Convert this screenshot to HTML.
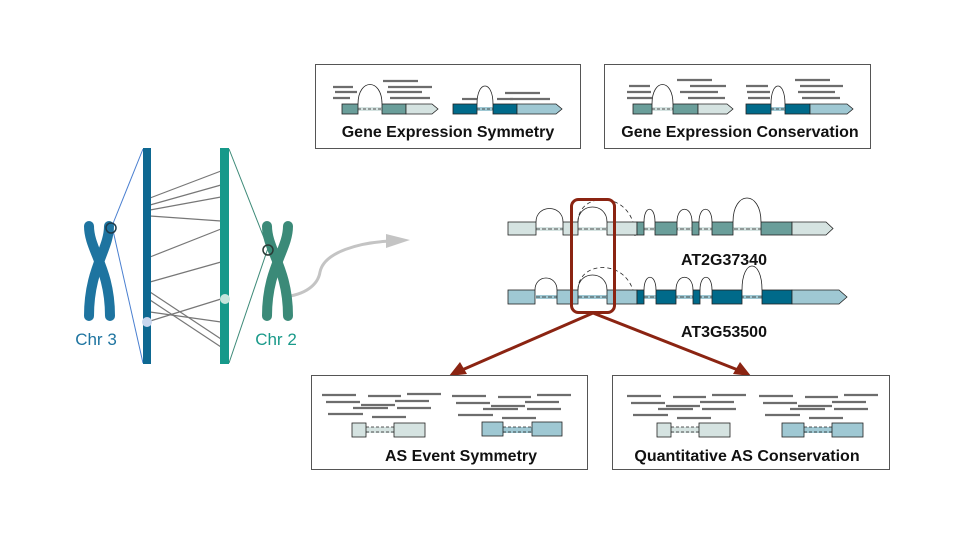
<!DOCTYPE html>
<html><head><meta charset="utf-8"><style>
html,body{margin:0;padding:0;background:#fff;}
svg{display:block;}
text{font-family:"Liberation Sans",Arial,sans-serif;}
</style></head><body>
<svg width="960" height="540" viewBox="0 0 960 540" xmlns="http://www.w3.org/2000/svg">
<defs>
<g id="reads" stroke="#6d6d6d" stroke-width="2.2">
<line x1="322" y1="395" x2="356" y2="395"/><line x1="368" y1="396" x2="401" y2="396"/><line x1="407" y1="394" x2="441" y2="394"/>
<line x1="326" y1="402" x2="360" y2="402"/><line x1="395" y1="401" x2="429" y2="401"/><line x1="361" y1="405" x2="395" y2="405"/>
<line x1="353" y1="408" x2="388" y2="408"/><line x1="397" y1="408" x2="431" y2="408"/><line x1="328" y1="414" x2="363" y2="414"/>
<line x1="372" y1="417" x2="406" y2="417"/>
</g>
</defs>

<g fill="none">
<line x1="143" y1="149" x2="112" y2="226" stroke="#4a7fd0" stroke-width="1"/>
<line x1="112" y1="226" x2="143" y2="363" stroke="#4a7fd0" stroke-width="1"/>
<line x1="229" y1="149" x2="268" y2="248" stroke="#3d8a78" stroke-width="1"/>
<line x1="268" y1="248" x2="229" y2="363" stroke="#3d8a78" stroke-width="1"/>
<g stroke="#777" stroke-width="1.2">
<line x1="150" y1="198" x2="221" y2="171"/><line x1="150" y1="205" x2="221" y2="185"/>
<line x1="150" y1="210" x2="221" y2="197"/><line x1="150" y1="216" x2="221" y2="221"/>
<line x1="150" y1="257" x2="221" y2="229"/><line x1="150" y1="282" x2="221" y2="262"/>
<line x1="150" y1="292" x2="221" y2="339"/><line x1="150" y1="300" x2="221" y2="347"/>
<line x1="150" y1="312" x2="221" y2="322"/><line x1="147" y1="322" x2="221" y2="299"/>
</g>
<path d="M283 297 C305 295 318 285 320 272 C324 252 360 242 392 241" stroke="#c4c4c4" stroke-width="3"/>
</g>
<polygon points="386,234 410,240 386,248" fill="#c4c4c4"/>
<rect x="143" y="148" width="8" height="216" fill="#0e6891"/>
<rect x="220" y="148" width="9" height="216" fill="#16998a"/>
<circle cx="147" cy="322" r="5" fill="#c8d6ee"/>
<circle cx="225" cy="299" r="5" fill="#c5e4dc"/>
<g fill="none" stroke-linecap="round" stroke-width="10" stroke="#1e74a0">
<path d="M89 226 C89 250 110 268 110 316"/>
<path d="M109 226 C109 250 89 268 89 316"/>
</g>
<circle cx="111" cy="228" r="5" fill="none" stroke="#1d3a4a" stroke-width="1.5"/>
<text x="96" y="345" font-size="17" fill="#1e74a0" text-anchor="middle">Chr 3</text>
<g fill="none" stroke-linecap="round" stroke-width="10" stroke="#3b8a78">
<path d="M267 226 C267 250 288 268 288 316"/>
<path d="M288 226 C288 250 267 268 267 316"/>
</g>
<circle cx="268" cy="250" r="5" fill="none" stroke="#2a3a36" stroke-width="1.5"/>
<text x="276" y="345" font-size="17" fill="#1a9a8a" text-anchor="middle">Chr 2</text>

<rect x="315.5" y="64.5" width="265" height="84" fill="#fff" stroke="#555"/>
<rect x="604.5" y="64.5" width="266" height="84" fill="#fff" stroke="#555"/>
<g stroke="#6d6d6d" stroke-width="2.2">
<line x1="333" y1="87" x2="353" y2="87"/><line x1="335" y1="92" x2="357" y2="92"/><line x1="333" y1="98" x2="350" y2="98"/>
<line x1="383" y1="81" x2="418" y2="81"/><line x1="388" y1="87" x2="432" y2="87"/><line x1="387" y1="92" x2="422" y2="92"/><line x1="390" y1="98" x2="430" y2="98"/>
<line x1="462" y1="99" x2="477" y2="99"/><line x1="505" y1="93" x2="540" y2="93"/><line x1="497" y1="99" x2="513" y2="99"/><line x1="510" y1="99" x2="550" y2="99"/>
<line x1="629" y1="86" x2="650" y2="86"/><line x1="627" y1="92" x2="651" y2="92"/><line x1="627" y1="98" x2="652" y2="98"/>
<line x1="677" y1="80" x2="712" y2="80"/><line x1="690" y1="86" x2="726" y2="86"/><line x1="680" y1="92" x2="718" y2="92"/><line x1="688" y1="98" x2="725" y2="98"/>
<line x1="746" y1="86" x2="768" y2="86"/><line x1="747" y1="92" x2="770" y2="92"/><line x1="748" y1="98" x2="770" y2="98"/>
<line x1="795" y1="80" x2="830" y2="80"/><line x1="800" y1="86" x2="843" y2="86"/><line x1="798" y1="92" x2="835" y2="92"/><line x1="802" y1="98" x2="840" y2="98"/>
</g>
<g stroke="#222" stroke-width="0.8">
<path d="M358 104 C358 78 382 78 382 104" fill="#fff"/>
<rect x="358" y="107" width="24" height="4" fill="#d5e3e1" stroke="none"/>
<line x1="358" y1="109" x2="382" y2="109" stroke-dasharray="3,2"/>
<rect x="342" y="104" width="16" height="10" fill="#6a9e9a"/>
<rect x="382" y="104" width="24" height="10" fill="#6a9e9a"/>
<path d="M406 104 H432 L438 109 L432 114 H406 Z" fill="#d5e3e1"/>
<path d="M477 104 C477 80 493 80 493 104" fill="#fff"/>
<rect x="477" y="107" width="16" height="4" fill="#9fc8d3" stroke="none"/>
<line x1="477" y1="109" x2="493" y2="109" stroke-dasharray="3,2"/>
<rect x="453" y="104" width="24" height="10" fill="#006a8a"/>
<rect x="493" y="104" width="24" height="10" fill="#006a8a"/>
<path d="M517 104 H556 L562 109 L556 114 H517 Z" fill="#9fc8d3"/>
<path d="M652 104 C652 78 673 78 673 104" fill="#fff"/>
<rect x="652" y="107" width="21" height="4" fill="#d5e3e1" stroke="none"/>
<line x1="652" y1="109" x2="673" y2="109" stroke-dasharray="3,2"/>
<rect x="633" y="104" width="19" height="10" fill="#6a9e9a"/>
<rect x="673" y="104" width="25" height="10" fill="#6a9e9a"/>
<path d="M698 104 H727 L733 109 L727 114 H698 Z" fill="#d5e3e1"/>
<path d="M771 104 C771 80 785 80 785 104" fill="#fff"/>
<rect x="771" y="107" width="14" height="4" fill="#9fc8d3" stroke="none"/>
<line x1="771" y1="109" x2="785" y2="109" stroke-dasharray="3,2"/>
<rect x="746" y="104" width="25" height="10" fill="#006a8a"/>
<rect x="785" y="104" width="25" height="10" fill="#006a8a"/>
<path d="M810 104 H847 L853 109 L847 114 H810 Z" fill="#9fc8d3"/>
</g>
<text x="448" y="137" font-size="16" font-weight="bold" fill="#111" text-anchor="middle">Gene Expression Symmetry</text>
<text x="740" y="137" font-size="16" font-weight="bold" fill="#111" text-anchor="middle">Gene Expression Conservation</text>

<g stroke="#222" stroke-width="0.8" fill="none">
<rect x="536" y="227" width="226" height="4" fill="#d5e3e1" stroke="none"/>
<line x1="536" y1="229" x2="762" y2="229" stroke-dasharray="4,2"/>
<path d="M536 222 C536 204 563 204 563 222"/>
<path d="M578 222 C578 202 607 202 607 222"/>
<path d="M578 222 C578 190 635 190 635 236" stroke-dasharray="4,3"/>
<path d="M644 222 C644 205 655 205 655 222"/>
<path d="M677 222 C677 205 692 205 692 222"/>
<path d="M699 222 C699 205 712 205 712 222"/>
<path d="M733 222 C733 190 761 190 761 222"/>
<rect x="508" y="222" width="28" height="13" fill="#d5e3e1"/>
<rect x="563" y="222" width="15" height="13" fill="#d5e3e1"/>
<rect x="607" y="222" width="30" height="13" fill="#d5e3e1"/>
<rect x="637" y="222" width="7" height="13" fill="#6a9e9a"/>
<rect x="655" y="222" width="22" height="13" fill="#6a9e9a"/>
<rect x="692" y="222" width="7" height="13" fill="#6a9e9a"/>
<rect x="712" y="222" width="21" height="13" fill="#6a9e9a"/>
<rect x="761" y="222" width="31" height="13" fill="#6a9e9a"/>
<path d="M792 222 H826 L833 228.5 L826 235 H792 Z" fill="#d5e3e1"/>
<rect x="536" y="295" width="226" height="4" fill="#9fc8d3" stroke="none"/>
<line x1="536" y1="297" x2="762" y2="297" stroke-dasharray="4,2"/>
<path d="M535 290 C535 274 557 274 557 290"/>
<path d="M578 290 C578 270 607 270 607 290"/>
<path d="M578 290 C578 258 635 258 635 304" stroke-dasharray="4,3"/>
<path d="M644 290 C644 273 656 273 656 290"/>
<path d="M676 290 C676 273 693 273 693 290"/>
<path d="M700 290 C700 273 712 273 712 290"/>
<path d="M742 290 C742 258 762 258 762 290"/>
<rect x="508" y="290" width="27" height="14" fill="#9fc8d3"/>
<rect x="557" y="290" width="21" height="14" fill="#9fc8d3"/>
<rect x="607" y="290" width="30" height="14" fill="#9fc8d3"/>
<rect x="637" y="290" width="7" height="14" fill="#006a8a"/>
<rect x="656" y="290" width="20" height="14" fill="#006a8a"/>
<rect x="693" y="290" width="7" height="14" fill="#006a8a"/>
<rect x="712" y="290" width="30" height="14" fill="#006a8a"/>
<rect x="762" y="290" width="30" height="14" fill="#006a8a"/>
<path d="M792 290 H839 L847 297 L839 304 H792 Z" fill="#9fc8d3"/>
</g>
<text x="724" y="265" font-size="16" font-weight="bold" fill="#111" text-anchor="middle">AT2G37340</text>
<text x="724" y="337" font-size="16" font-weight="bold" fill="#111" text-anchor="middle">AT3G53500</text>

<rect x="571.5" y="199.5" width="43" height="113" rx="7" fill="none" stroke="#8b2412" stroke-width="3"/>
<g stroke="#8b2412" stroke-width="3">
<line x1="593" y1="313" x2="462" y2="370"/>
<line x1="593" y1="313" x2="738" y2="370"/>
</g>
<polygon points="449,376 460,362 467,374" fill="#8b2412"/>
<polygon points="751,376 733,374 740,362" fill="#8b2412"/>

<rect x="311.5" y="375.5" width="276" height="94" fill="#fff" stroke="#555"/>
<rect x="612.5" y="375.5" width="277" height="94" fill="#fff" stroke="#555"/>
<use href="#reads"/>
<use href="#reads" transform="translate(130,1)"/>
<use href="#reads" transform="translate(305,1)"/>
<use href="#reads" transform="translate(437,1)"/>
<g stroke="#222" stroke-width="0.8">
<rect x="366" y="427" width="28" height="6" fill="#d5e3e1" stroke="none"/>
<line x1="366" y1="427" x2="394" y2="427" stroke-dasharray="3,2"/><line x1="366" y1="432" x2="394" y2="432" stroke-dasharray="3,2"/>
<rect x="352" y="423" width="14" height="14" fill="#d5e3e1"/>
<rect x="394" y="423" width="31" height="14" fill="#d5e3e1"/>
<rect x="503" y="427" width="29" height="6" fill="#9fc8d3" stroke="none"/>
<line x1="503" y1="427" x2="532" y2="427" stroke-dasharray="3,2"/><line x1="503" y1="432" x2="532" y2="432" stroke-dasharray="3,2"/>
<rect x="482" y="422" width="21" height="14" fill="#9fc8d3"/>
<rect x="532" y="422" width="30" height="14" fill="#9fc8d3"/>
<rect x="671" y="427" width="28" height="6" fill="#d5e3e1" stroke="none"/>
<line x1="671" y1="427" x2="699" y2="427" stroke-dasharray="3,2"/><line x1="671" y1="432" x2="699" y2="432" stroke-dasharray="3,2"/>
<rect x="657" y="423" width="14" height="14" fill="#d5e3e1"/>
<rect x="699" y="423" width="31" height="14" fill="#d5e3e1"/>
<rect x="804" y="427" width="28" height="6" fill="#9fc8d3" stroke="none"/>
<line x1="804" y1="427" x2="832" y2="427" stroke-dasharray="3,2"/><line x1="804" y1="432" x2="832" y2="432" stroke-dasharray="3,2"/>
<rect x="782" y="423" width="22" height="14" fill="#9fc8d3"/>
<rect x="832" y="423" width="31" height="14" fill="#9fc8d3"/>
</g>
<text x="461" y="461" font-size="16" font-weight="bold" fill="#111" text-anchor="middle">AS Event Symmetry</text>
<text x="747" y="461" font-size="16" font-weight="bold" fill="#111" text-anchor="middle">Quantitative AS Conservation</text>
</svg>
</body></html>
